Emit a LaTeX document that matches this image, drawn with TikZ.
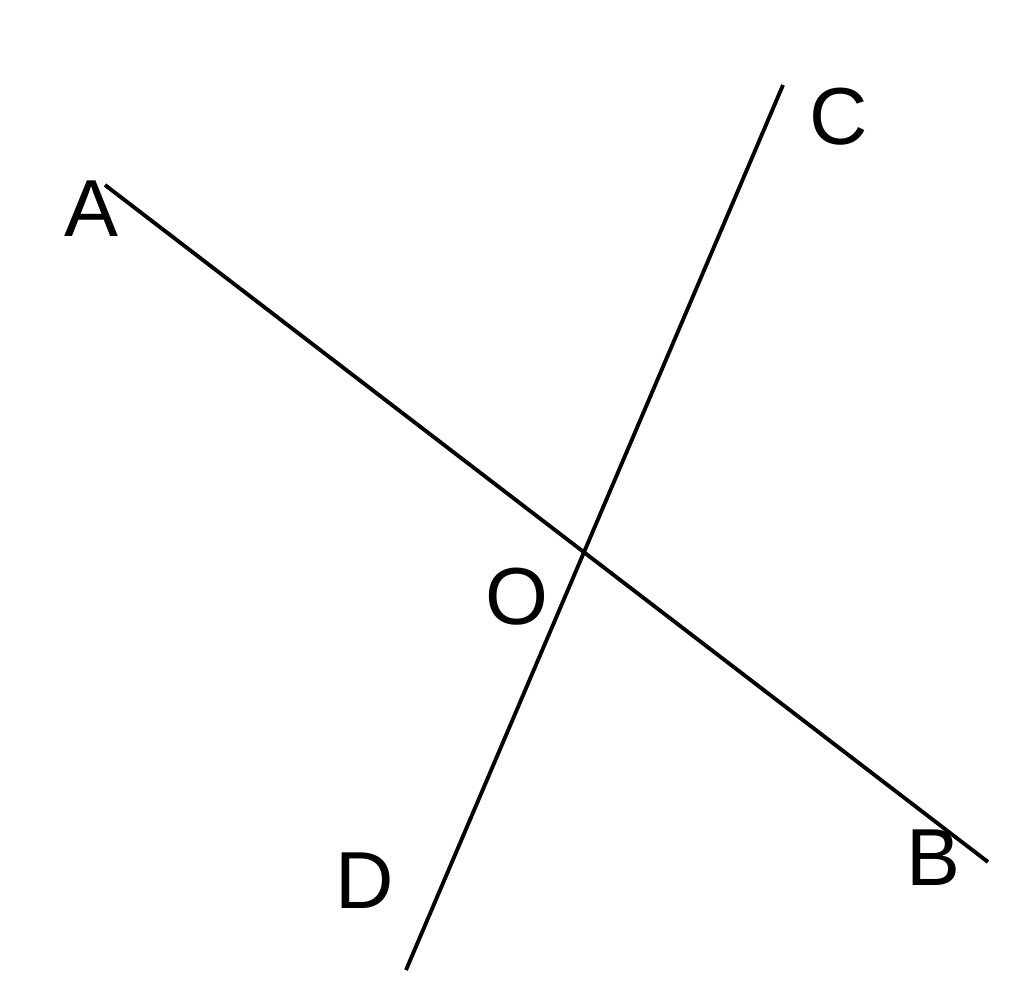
\documentclass[tikz,border=0pt]{standalone}
\usepackage{fontspec}
\setmainfont{Liberation Sans}
\begin{document}
\begin{tikzpicture}[x=0.01cm, y=-0.01cm,
  ptlabel/.style={inner sep=0pt, font=\fontsize{23}{27}\selectfont},
  lineseg/.style={line width=1.1pt}]

\useasboundingbox (0,0) rectangle (1024,991);

\coordinate (A) at (105,185);
\coordinate (B) at (988,862);
\coordinate (C) at (783,85);
\coordinate (D) at (406,970);
\coordinate (O) at (intersection of A--B and C--D);

\draw[lineseg] (A) -- (B);
\draw[lineseg] (C) -- (D);

\node[ptlabel] (labA) at (91,209) {A};
\node[ptlabel] (labB) at (933,858) {B};
\node[ptlabel] (labC) at (839,117) {C};
\node[ptlabel] (labD) at (365,881) {D};
\node[ptlabel] (labO) at (517,597) {O};

\end{tikzpicture}
\end{document}
